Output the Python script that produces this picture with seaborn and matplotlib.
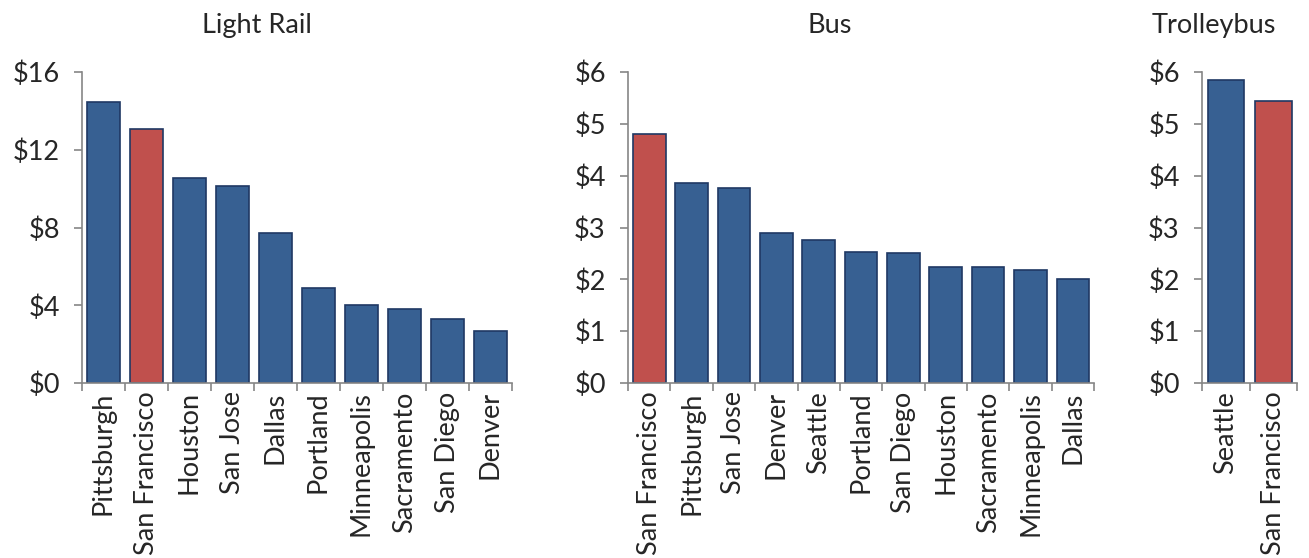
import numpy as np
import pandas as pd
import seaborn as sns
import matplotlib.pyplot as plt
from matplotlib.ticker import FixedLocator

# light rail cost per trip
rail_cities = ["Pittsburgh", "San Francisco", "Houston", "San Jose", "Dallas",
               "Portland", "Minneapolis", "Sacramento", "San Diego", "Denver"]
rail_cost = [14.45, 13.05, 10.54, 10.13, 7.72, 4.90, 4.01, 3.80, 3.29, 2.67]

# bus
bus_cities = ["San Francisco", "Pittsburgh", "San Jose", "Denver", "Seattle",
              "Portland", "San Diego", "Houston", "Sacramento", "Minneapolis", "Dallas"]
bus_cost = [4.80, 3.85, 3.76, 2.90, 2.76, 2.52, 2.50, 2.24, 2.24, 2.19, 2.00]

# trolleybus
trolley_cities = ["Seattle", "San Francisco"]
trolley_cost = [5.84, 5.45]

BLUE = "#376092"
RED = "#C0504D"
EDGE = "#1F3864"
GRAY = "#868686"
FS = 19.5

sns.set_style("white")
plt.rcParams['font.family'] = ['Lato', 'DejaVu Sans']

fig = plt.figure(figsize=(13.09, 5.58), dpi=100)

panels = [
    ("Light Rail", rail_cities, rail_cost, [0, 4, 8, 12, 16], [0.0626, 0.3285], 0.196),
    ("Bus", bus_cities, bus_cost, [0, 1, 2, 3, 4, 5, 6], [0.4798, 0.356], 0.634),
    ("Trolleybus", trolley_cities, trolley_cost, [0, 1, 2, 3, 4, 5, 6], [0.9183, 0.0726], 0.927),
]

for title, cities, cost, yt, (left, width), tx in panels:
    ax = fig.add_axes([left, 0.3136, width, 0.5573])
    df = pd.DataFrame({"city": cities, "cost": cost})
    pal = {c: (RED if c == "San Francisco" else BLUE) for c in cities}
    sns.barplot(data=df, x="city", y="cost", hue="city", palette=pal,
                saturation=1, width=0.77, edgecolor=EDGE, linewidth=1.2,
                legend=False, ax=ax)
    n = len(cities)
    ax.set_xlim(-0.5, n - 0.5)
    ax.set_ylim(0, yt[-1])
    ax.set_yticks(yt)
    ax.set_yticklabels([f"${v}" for v in yt], fontsize=FS)
    ax.set_xticks(range(n))
    ax.set_xticklabels(cities, rotation=90, fontsize=FS)
    ax.xaxis.set_minor_locator(FixedLocator(np.arange(-0.5, n, 1.0)))
    ax.tick_params(axis="x", which="major", length=0, pad=6)
    ax.tick_params(axis="x", which="minor", length=6, color=GRAY, width=1.2, bottom=True)
    ax.tick_params(axis="y", length=6, color=GRAY, width=1.2, left=True, pad=10)
    ax.set_xlabel("")
    ax.set_ylabel("")
    for s in ["top", "right"]:
        ax.spines[s].set_visible(False)
    for s in ["left", "bottom"]:
        ax.spines[s].set_color(GRAY)
        ax.spines[s].set_linewidth(1.2)
    fig.text(tx, 0.955, title, ha="center", va="center", fontsize=FS)

fig.savefig("out.png", dpi=100)
